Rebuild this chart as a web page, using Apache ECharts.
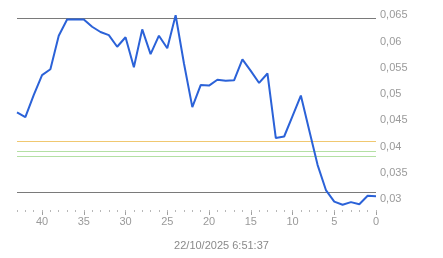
<!DOCTYPE html>
<html>
<head>
<meta charset="utf-8">
<script src="https://cdn.jsdelivr.net/npm/echarts@6/dist/echarts.min.js"></script>
<style>
html,body{margin:0;padding:0;background:#fff;}
#chart{width:443px;height:258px;}
</style>
</head>
<body>
<div id="chart"></div>
<script>
// Days before the timestamp (x) and values (y)
const xDays = [43,42,41,40,39,38,37,36,35,34,33,32,31,30,29,28,27,26,25,24,23,22,21,20,19,18,17,16,15,14,13,12,11,10,9,8,7,6,5,4,3,2,1,0];
const yValues = [0.0465,0.0456,0.0498,0.0536,0.0547,0.0611,0.0642,0.0642,0.0642,0.0628,0.0618,0.0612,0.0590,0.0608,0.0551,0.0623,0.0576,0.0611,0.0587,0.0650,0.0558,0.0475,0.0517,0.0516,0.0527,0.0525,0.0526,0.0566,0.0544,0.0521,0.0539,0.0416,0.0419,0.0458,0.0497,0.0431,0.0365,0.0317,0.0295,0.0289,0.0294,0.0290,0.0306,0.0305];
const xTickLabels = [0,5,10,15,20,25,30,35,40];
const yTickLabels = [0.03,0.035,0.04,0.045,0.05,0.055,0.06,0.065];
const grayLevels = [0.0644,0.0313];
const orangeLevels = [0.0410];
const greenLevels = [0.0391,0.0382];
const timestamp = '22/10/2025 6:51:37';

const chart = echarts.init(document.getElementById('chart'), null, {renderer:'canvas'});
const font = 'Liberation Sans, Arial, sans-serif';
const levelLines = []
  .concat(grayLevels.map(v => ({yAxis:v, lineStyle:{color:'#7a7a7a', width:1, type:'solid'}})))
  .concat(orangeLevels.map(v => ({yAxis:v, lineStyle:{color:'#f0c870', width:1, type:'solid'}})))
  .concat(greenLevels.map(v => ({yAxis:v, lineStyle:{color:'#b4e0a4', width:1, type:'solid'}})));

chart.setOption({
  animation:false,
  backgroundColor:'#fff',
  title:{
    text: timestamp, left:'center', top:235,
    textStyle:{fontFamily:font, fontSize:11, fontWeight:'normal', color:'#8a8a8a'}
  },
  grid:{left:17, right:67, top:0, height:210},
  xAxis:[{
    type:'value', inverse:true, min:0, max:43,
    axisLine:{show:false},
    splitLine:{show:false},
    axisTick:{show:true, length:5, lineStyle:{color:'#a0a0a0'}, customValues:xTickLabels},
    axisLabel:{customValues:xTickLabels, fontFamily:font, fontSize:11, color:'#9a9a9a', margin:6}
  },{
    type:'value', inverse:true, min:0, max:43, interval:1, position:'bottom',
    axisLine:{show:false},
    splitLine:{show:false},
    axisTick:{show:true, length:2, lineStyle:{color:'#b8b8b8'}},
    axisLabel:{show:false}
  }],
  yAxis:{
    type:'value', position:'right', min:0.0279, max:0.0679,
    axisLine:{show:false}, axisTick:{show:false}, splitLine:{show:false},
    axisLabel:{
      customValues:yTickLabels, margin:4, fontFamily:font, fontSize:11, color:'#9a9a9a',
      formatter: v => String(+v.toFixed(4)).replace('.', ',')
    }
  },
  series:[{
    type:'line', xAxisIndex:0,
    data: xDays.map((x,i) => [x, yValues[i]]),
    showSymbol:false, symbol:'none',
    lineStyle:{color:'#2b62d8', width:2},
    z:5,
    markLine:{
      silent:true, symbol:'none', precision:5, label:{show:false},
      data: levelLines
    }
  }]
});
</script>
</body>
</html>
